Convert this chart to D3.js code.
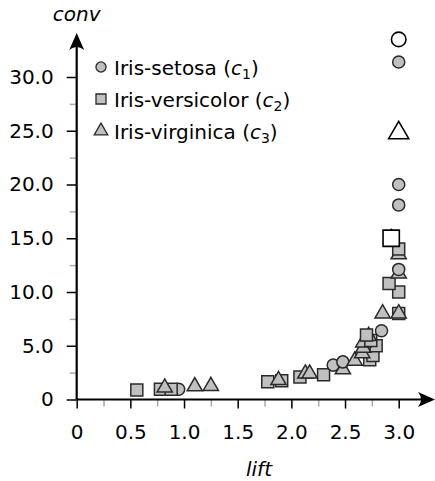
<!DOCTYPE html>
<html>
<head>
<meta charset="utf-8">
<script src="https://cdn.jsdelivr.net/npm/d3@7"></script>
<style>
  body { margin: 0; background: #fff; }
  text { font-family: "DejaVu Sans", sans-serif; }
</style>
</head>
<body>
<script>
// points: [lift, conv]
const setosa = [
  [3.0, 31.4], [3.0, 20.0], [3.0, 18.1], [3.0, 12.1], [2.84, 6.4],
  [2.48, 3.5], [2.39, 3.2], [0.95, 0.95]
];
const versicolor = [
  [0.56, 0.88], [0.78, 0.95], [0.88, 0.95], [1.78, 1.65], [1.91, 1.75],
  [2.08, 2.1], [2.30, 2.3], [2.70, 6.0], [2.74, 5.5], [2.79, 5.0],
  [2.76, 4.1], [2.73, 3.7], [3.0, 14.0], [2.91, 10.8], [3.0, 10.0], [3.0, 8.0]
];
const virginica = [
  [0.82, 1.1], [1.10, 1.22], [1.25, 1.25], [1.88, 1.8], [2.13, 2.4],
  [2.17, 2.4], [2.48, 2.8], [2.59, 3.6], [2.66, 4.3], [2.67, 4.8],
  [2.67, 5.3], [2.72, 5.9], [2.85, 8.0], [3.0, 8.0], [3.0, 13.5],
  [3.0, 11.7], [2.93, 15.0]
];
// open (white) markers
const bestRules = [
  {cls: 'setosa', lift: 3.0, conv: 33.5},
  {cls: 'virginica', lift: 3.0, conv: 24.8},
  {cls: 'versicolor', lift: 2.93, conv: 15.0}
];
const classNames = ['Iris-setosa', 'Iris-versicolor', 'Iris-virginica'];
const xTicks = [0, 0.5, 1.0, 1.5, 2.0, 2.5, 3.0];
const xMinor = [0.25, 0.75, 1.25, 1.75, 2.25, 2.75];
const yTicks = [0, 5, 10, 15, 20, 25, 30];
const yMinor = [2.5, 7.5, 12.5, 17.5, 22.5, 27.5];

const width = 435, height = 481;
const grey = '#c0c0c0', edge = '#2a2a2a';
const font = '"DejaVu Sans", sans-serif';

var svg = d3.select('body')
  .append('svg')
  .attr('width', width)
  .attr('height', height);

let x = d3.scaleLinear().domain([0, 3]).range([76.7, 398.7]);
let y = d3.scaleLinear().domain([0, 30]).range([399.5, 77]);

const fmt = d => d === 0 ? '0' : d3.format('.1f')(d);

// minor ticks
svg.append('g')
  .attr('transform', `translate(${x(0)},0)`)
  .call(d3.axisLeft(y).tickValues(yMinor).tickSize(7).tickFormat(''))
  .call(g => g.select('.domain').remove())
  .call(g => g.selectAll('line').attr('stroke', '#aaa').attr('stroke-width', 1.5));

svg.append('g')
  .attr('transform', `translate(0,${y(0)})`)
  .call(d3.axisBottom(x).tickValues(xMinor).tickSize(7).tickFormat(''))
  .call(g => g.select('.domain').remove())
  .call(g => g.selectAll('line').attr('stroke', '#aaa').attr('stroke-width', 1.5));

// major ticks
svg.append('g')
  .attr('transform', `translate(${x(0)},0)`)
  .call(d3.axisLeft(y).tickValues(yTicks).tickSize(10).tickPadding(13).tickFormat(fmt))
  .call(g => g.select('.domain').remove())
  .call(g => g.selectAll('line').attr('stroke', '#000').attr('stroke-width', 1.5))
  .call(g => g.selectAll('text').attr('font-size', 20).attr('fill', '#000')
    .attr('font-family', font));

svg.append('g')
  .attr('transform', `translate(0,${y(0)})`)
  .call(d3.axisBottom(x).tickValues(xTicks).tickSize(9).tickFormat(fmt))
  .call(g => g.select('.domain').remove())
  .call(g => g.selectAll('line').attr('stroke', '#000').attr('stroke-width', 1.5))
  .call(g => g.selectAll('text').attr('font-size', 20).attr('fill', '#000')
    .attr('font-family', font)
    .attr('dy', null).attr('y', 39.5));

// axis lines with arrow heads
svg.append('line')
  .attr('x1', x(0)).attr('y1', y(0)).attr('x2', x(0)).attr('y2', 40)
  .attr('stroke', '#000').attr('stroke-width', 2.2);
svg.append('line')
  .attr('x1', x(0)).attr('y1', y(0)).attr('x2', 428).attr('y2', y(0))
  .attr('stroke', '#000').attr('stroke-width', 2.2);

const arrow = 'M0,0 L-17,-7.5 Q-11,0 -17,7.5 Z';
svg.append('path').attr('d', arrow)
  .attr('transform', `translate(${x(0)},33) rotate(-90)`);
svg.append('path').attr('d', arrow)
  .attr('transform', `translate(435,${y(0)})`);

// axis titles
svg.append('text')
  .attr('x', x(0)).attr('y', 21)
  .attr('text-anchor', 'middle')
  .attr('font-size', 20).attr('font-style', 'italic')
  .text('conv');
svg.append('text')
  .attr('x', 259).attr('y', 476)
  .attr('text-anchor', 'middle')
  .attr('font-size', 20).attr('font-style', 'italic')
  .text('lift');

// markers
const shapes = {
  setosa: d3.symbolCircle,
  versicolor: d3.symbolSquare,
  virginica: d3.symbolTriangle
};
const sizes = {setosa: 115, versicolor: 144, virginica: 100};
const bigSizes = {setosa: 165, versicolor: 265, virginica: 175};

let points = [];
setosa.forEach(d => points.push({cls: 'setosa', lift: d[0], conv: d[1]}));
versicolor.forEach(d => points.push({cls: 'versicolor', lift: d[0], conv: d[1]}));
virginica.forEach(d => points.push({cls: 'virginica', lift: d[0], conv: d[1]}));
points.sort((a, b) => a.conv - b.conv);

svg.append('g').selectAll('path').data(points)
  .enter()
    .append('path')
    .attr('d', d => d3.symbol(shapes[d.cls], sizes[d.cls])())
    .attr('transform', d => `translate(${x(d.lift)},${y(d.conv)})`)
    .attr('fill', grey)
    .attr('stroke', edge)
    .attr('stroke-width', 1.5);

svg.append('g').selectAll('path').data(bestRules)
  .enter()
    .append('path')
    .attr('d', d => d3.symbol(shapes[d.cls], bigSizes[d.cls])())
    .attr('transform', d => `translate(${x(d.lift)},${y(d.conv)})`)
    .attr('fill', '#fff')
    .attr('stroke', '#000')
    .attr('stroke-width', 1.6);

// legend
const legendCls = ['setosa', 'versicolor', 'virginica'];
const legendSizes = {setosa: 80, versicolor: 100, virginica: 80};
let legend = svg.append('g');
legendCls.forEach((c, i) => {
  let row = legend.append('g')
    .attr('transform', `translate(101,${67 + i * 32})`);
  row.append('path')
    .attr('d', d3.symbol(shapes[c], legendSizes[c])())
    .attr('fill', grey)
    .attr('stroke', edge)
    .attr('stroke-width', 1.3);
  let t = row.append('text')
    .attr('x', 13).attr('y', 7.5)
    .attr('font-size', 20);
  t.append('tspan').text(classNames[i] + ' (');
  t.append('tspan').attr('font-style', 'italic').text('c');
  t.append('tspan').attr('font-size', 14).attr('dy', 4).text(i + 1);
  t.append('tspan').attr('dy', -4).text(')');
});
</script>
</body>
</html>
